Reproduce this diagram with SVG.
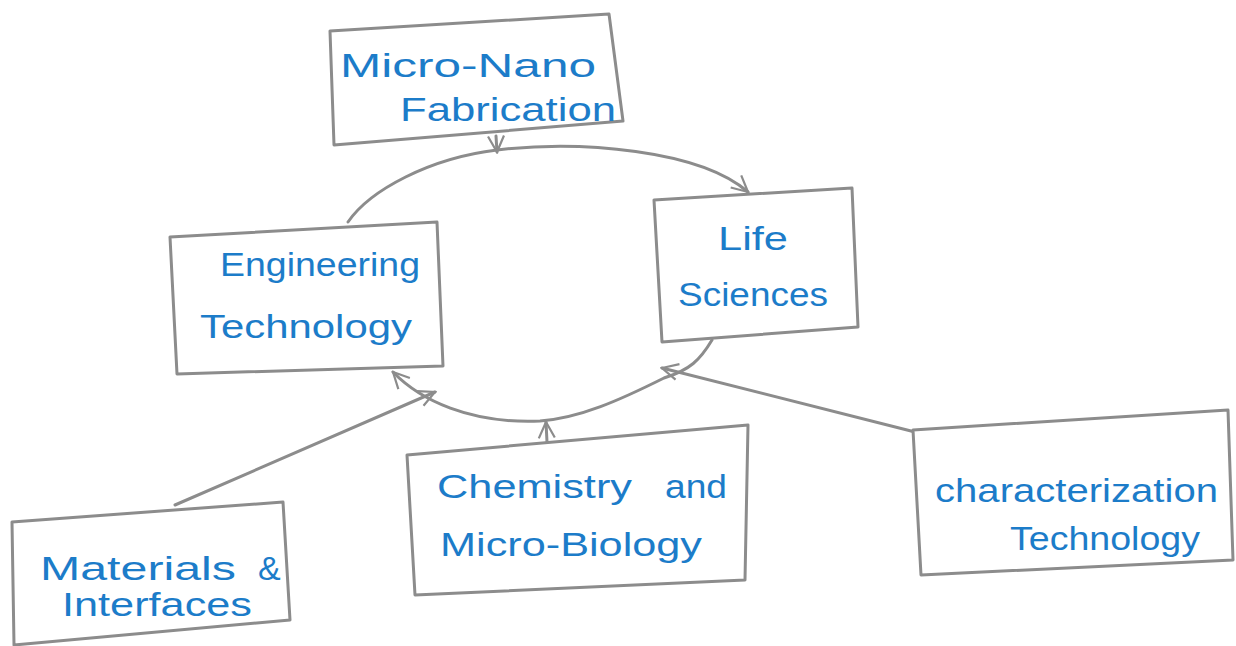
<svg xmlns="http://www.w3.org/2000/svg" width="1236" height="646" viewBox="0 0 1236 646">
<style>
.box{fill:#ffffff;stroke:#8c8c8c;stroke-width:3;stroke-linejoin:round}
.con{fill:none;stroke:#8c8c8c;stroke-width:3;stroke-linecap:round}
.t{font-family:"Liberation Sans",Arial,sans-serif;font-size:34px;fill:#1c7cc9}
</style>
<defs>
<marker id="ahs" viewBox="0 0 20 20" refX="18" refY="10" markerWidth="20" markerHeight="20" markerUnits="userSpaceOnUse" orient="auto">
<path d="M2,2 L18,10 L2,18" fill="none" stroke="#8c8c8c" stroke-width="2.2"/>
</marker>
</defs>
<rect width="1236" height="646" fill="#ffffff"/>
<g id="connectors">
<path class="con" d="M348,222 C370,190 430,158 497,150 C580,140 700,150 748,192" marker-end="url(#ahs)"/>
<path class="con" d="M496,136 L497,152" marker-end="url(#ahs)"/>
<path class="con" d="M712,340 C700,360 690,370 664,378 C620,400 580,418 540,421 C470,424 420,400 393,372" marker-end="url(#ahs)"/>
<path class="con" d="M547,442 L546,422" marker-end="url(#ahs)"/>
<path class="con" d="M175,505 L435,392" marker-end="url(#ahs)"/>
<path class="con" d="M915,432 L662,368" marker-end="url(#ahs)"/>
</g>
<g id="micro-nano">
<polygon class="box" points="330,31 609,14 623,121 334,145"/>
<text class="t" x="340" y="77" textLength="256" lengthAdjust="spacingAndGlyphs">Micro-Nano</text>
<text class="t" x="400" y="121" textLength="216" lengthAdjust="spacingAndGlyphs">Fabrication</text>
</g>
<g id="life-sciences">
<polygon class="box" points="654,200 852,188 858,327 662,342"/>
<text class="t" x="718" y="250" textLength="70" lengthAdjust="spacingAndGlyphs">Life</text>
<text class="t" x="678" y="306" textLength="150" lengthAdjust="spacingAndGlyphs">Sciences</text>
</g>
<g id="engineering">
<polygon class="box" points="170,237 437,222 443,366 177,374"/>
<text class="t" x="220" y="276" textLength="200" lengthAdjust="spacingAndGlyphs">Engineering</text>
<text class="t" x="200" y="338" textLength="212" lengthAdjust="spacingAndGlyphs">Technology</text>
</g>
<g id="chemistry">
<polygon class="box" points="407,455 748,425 745,580 415,595"/>
<text class="t" x="437" y="498"><tspan textLength="195" lengthAdjust="spacingAndGlyphs">Chemistry</tspan><tspan x="665" textLength="62" lengthAdjust="spacingAndGlyphs">and</tspan></text>
<text class="t" x="440" y="556" textLength="262" lengthAdjust="spacingAndGlyphs">Micro-Biology</text>
</g>
<g id="materials">
<polygon class="box" points="12,522 283,502 290,620 14,645"/>
<text class="t" x="40" y="580"><tspan textLength="196" lengthAdjust="spacingAndGlyphs">Materials</tspan><tspan x="258">&amp;</tspan></text>
<text class="t" x="62" y="616" textLength="190" lengthAdjust="spacingAndGlyphs">Interfaces</text>
</g>
<g id="characterization">
<polygon class="box" points="913,430 1228,410 1233,560 921,575"/>
<text class="t" x="935" y="502" textLength="283" lengthAdjust="spacingAndGlyphs">characterization</text>
<text class="t" x="1010" y="550" textLength="190" lengthAdjust="spacingAndGlyphs">Technology</text>
</g>
</svg>
